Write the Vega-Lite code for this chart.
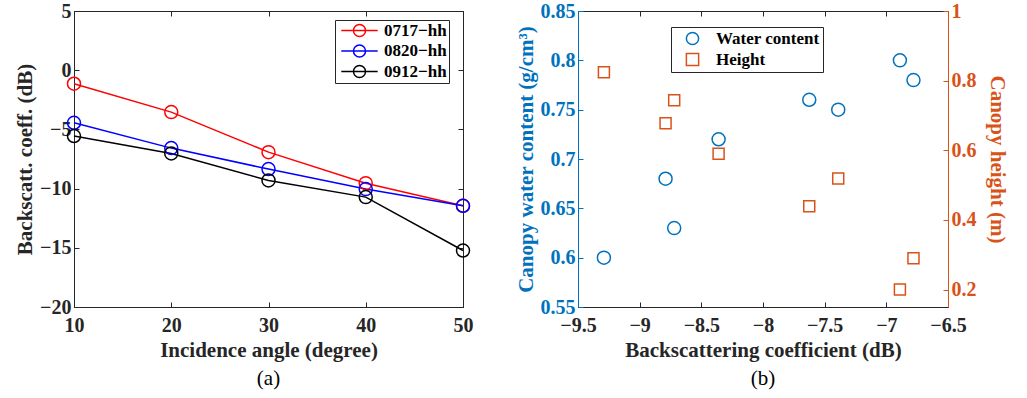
{
  "$schema": "https://vega.github.io/schema/vega-lite/v6.json",
  "background": "white",
  "padding": {"left": 14, "top": 0, "right": 5, "bottom": 5},
  "spacing": 40,
  "config": {
    "font": "Times New Roman, Liberation Serif, Times, serif",
    "view": {"stroke": "#262626", "strokeWidth": 1},
    "axis": {
      "labelFont": "Times New Roman, Liberation Serif, Times, serif", "labelFontSize": 20, "labelFontWeight": "bold", "labelColor": "#262626",
      "titleFont": "Times New Roman, Liberation Serif, Times, serif", "titleFontSize": 21, "titleFontWeight": "bold", "titleColor": "#262626",
      "grid": false, "tickSize": -5, "tickColor": "#262626", "domainColor": "#262626",
      "labelPadding": 8, "titlePadding": 4, "labelFlush": false, "labelOverlap": false
    },
    "axisX": {"labelPadding": 13},
    "legend": {
      "labelFont": "Times New Roman, Liberation Serif, Times, serif", "labelFontSize": 17, "labelFontWeight": "bold", "labelColor": "#000000",
      "fillColor": "white", "strokeColor": "#262626", "title": null
    },
    "title": {"font": "Times New Roman, Liberation Serif, Times, serif", "fontSize": 21, "fontWeight": "normal", "color": "#000000"}
  },
  "datasets": {
    "lines": [
      {"angle": 10, "date": "0717−hh", "value": -1.14},
      {"angle": 20, "date": "0717−hh", "value": -3.54},
      {"angle": 30, "date": "0717−hh", "value": -6.92},
      {"angle": 40, "date": "0717−hh", "value": -9.54},
      {"angle": 50, "date": "0717−hh", "value": -11.45},
      {"angle": 10, "date": "0820−hh", "value": -4.44},
      {"angle": 20, "date": "0820−hh", "value": -6.58},
      {"angle": 30, "date": "0820−hh", "value": -8.35},
      {"angle": 40, "date": "0820−hh", "value": -10.04},
      {"angle": 50, "date": "0820−hh", "value": -11.45},
      {"angle": 10, "date": "0912−hh", "value": -5.56},
      {"angle": 20, "date": "0912−hh", "value": -7.03},
      {"angle": 30, "date": "0912−hh", "value": -9.31},
      {"angle": 40, "date": "0912−hh", "value": -10.72},
      {"angle": 50, "date": "0912−hh", "value": -15.23}
    ],
    "scatter": [
      {"bs": -9.29, "series": "Water content", "value": 0.60},
      {"bs": -8.79, "series": "Water content", "value": 0.68},
      {"bs": -8.72, "series": "Water content", "value": 0.63},
      {"bs": -8.36, "series": "Water content", "value": 0.72},
      {"bs": -7.625, "series": "Water content", "value": 0.76},
      {"bs": -7.39, "series": "Water content", "value": 0.75},
      {"bs": -6.89, "series": "Water content", "value": 0.80},
      {"bs": -6.78, "series": "Water content", "value": 0.78},
      {"bs": -9.29, "series": "Height", "value": 0.824},
      {"bs": -8.79, "series": "Height", "value": 0.678},
      {"bs": -8.72, "series": "Height", "value": 0.744},
      {"bs": -8.36, "series": "Height", "value": 0.59},
      {"bs": -7.625, "series": "Height", "value": 0.439},
      {"bs": -7.39, "series": "Height", "value": 0.519},
      {"bs": -6.89, "series": "Height", "value": 0.20},
      {"bs": -6.78, "series": "Height", "value": 0.29}
    ]
  },
  "resolve": {"scale": {"color": "independent", "shape": "independent"}, "legend": {"color": "independent", "shape": "independent"}},
  "hconcat": [
    {
      "width": 389, "height": 296,
      "title": {"text": "(a)", "orient": "bottom", "anchor": "middle", "offset": 8},
      "data": {"name": "lines"},
      "layer": [
        {
          "mark": {"type": "line", "strokeWidth": 1.5},
          "encoding": {
            "x": {"field": "angle", "type": "quantitative", "scale": {"domain": [10, 50], "nice": false, "zero": false},
                  "axis": {"values": [10, 20, 30, 40, 50], "title": "Incidence angle (degree)"}},
            "y": {"field": "value", "type": "quantitative", "scale": {"domain": [-20, 5], "nice": false, "zero": false},
                  "axis": {"values": [-20, -15, -10, -5, 0, 5], "title": "Backscatt. coeff. (dB)"}},
            "color": {"field": "date", "type": "nominal",
                      "scale": {"domain": ["0717−hh", "0820−hh", "0912−hh"], "range": ["#ff0000", "#0000ff", "#000000"]},
                      "legend": {"orient": "none", "legendX": 261, "legendY": 9, "padding": 2,
                                 "symbolType": "M-2.6,0H2.6M0.86,0A0.86,0.86,0,1,1,-0.86,0A0.86,0.86,0,1,1,0.86,0",
                                 "symbolSize": 196, "symbolStrokeWidth": 1.5, "symbolFillColor": "transparent",
                                 "symbolOffset": 14, "labelOffset": 16, "rowPadding": 1.5}}
          }
        },
        {
          "mark": {"type": "point", "shape": "circle", "size": 169, "strokeWidth": 1.5, "filled": false, "opacity": 1},
          "encoding": {
            "x": {"field": "angle", "type": "quantitative", "scale": {"domain": [10, 50], "nice": false, "zero": false},
                  "axis": {"orient": "top", "values": [10, 20, 30, 40, 50], "labels": false, "title": null, "domain": false}},
            "y": {"field": "value", "type": "quantitative", "scale": {"domain": [-20, 5], "nice": false, "zero": false},
                  "axis": {"orient": "right", "values": [-20, -15, -10, -5, 0, 5], "labels": false, "title": null, "domain": false}},
            "color": {"field": "date", "type": "nominal"}
          }
        }
      ],
      "resolve": {"axis": {"x": "independent", "y": "independent"}}
    },
    {
      "width": 370, "height": 296,
      "title": {"text": "(b)", "orient": "bottom", "anchor": "middle", "offset": 8},
      "data": {"name": "scatter"},
      "encoding": {
        "color": {"field": "series", "type": "nominal",
                  "scale": {"domain": ["Water content", "Height"], "range": ["#0072BD", "#D95319"]},
                  "legend": {"orient": "none", "legendX": 93, "legendY": 16, "padding": 3, "symbolOffset": 10,
                             "symbolSize": 150, "symbolStrokeWidth": 1.5, "labelOffset": 15, "rowPadding": 2}},
        "shape": {"field": "series", "type": "nominal",
                  "scale": {"domain": ["Water content", "Height"], "range": ["circle", "square"]}}
      },
      "layer": [
        {
          "transform": [{"filter": "datum.series === 'Water content'"}],
          "mark": {"type": "point", "filled": false, "size": 169, "strokeWidth": 1.5, "opacity": 1},
          "encoding": {
            "x": {"field": "bs", "type": "quantitative", "scale": {"domain": [-9.5, -6.5], "nice": false, "zero": false},
                  "axis": {"values": [-9.5, -9, -8.5, -8, -7.5, -7, -6.5], "format": "~g", "title": "Backscattering coefficient (dB)"}},
            "y": {"field": "value", "type": "quantitative", "scale": {"domain": [0.55, 0.85], "nice": false, "zero": false},
                  "axis": {"orient": "left", "values": [0.55, 0.6, 0.65, 0.7, 0.75, 0.8, 0.85], "format": "~g",
                           "title": "Canopy water content (g/cm³)",
                           "labelColor": "#0072BD", "titleColor": "#0072BD", "domainColor": "#0072BD", "tickColor": "#0072BD"}}
          }
        },
        {
          "transform": [{"filter": "datum.series === 'Height'"}],
          "mark": {"type": "point", "filled": false, "size": 121, "strokeWidth": 1.5, "opacity": 1},
          "encoding": {
            "x": {"field": "bs", "type": "quantitative", "scale": {"domain": [-9.5, -6.5], "nice": false, "zero": false},
                  "axis": {"orient": "top", "values": [-9.5, -9, -8.5, -8, -7.5, -7, -6.5], "labels": false, "title": null, "domain": false}},
            "y": {"field": "value", "type": "quantitative", "scale": {"domain": [0.15, 1], "nice": false, "zero": false},
                  "axis": {"orient": "right", "values": [0.2, 0.4, 0.6, 0.8, 1], "format": "~g",
                           "title": "Canopy height (m)", "titlePadding": 10,
                           "labelColor": "#D95319", "titleColor": "#D95319", "domainColor": "#D95319", "tickColor": "#D95319"}}
          }
        }
      ],
      "resolve": {"scale": {"y": "independent"}, "axis": {"x": "independent", "y": "independent"}}
    }
  ]
}
